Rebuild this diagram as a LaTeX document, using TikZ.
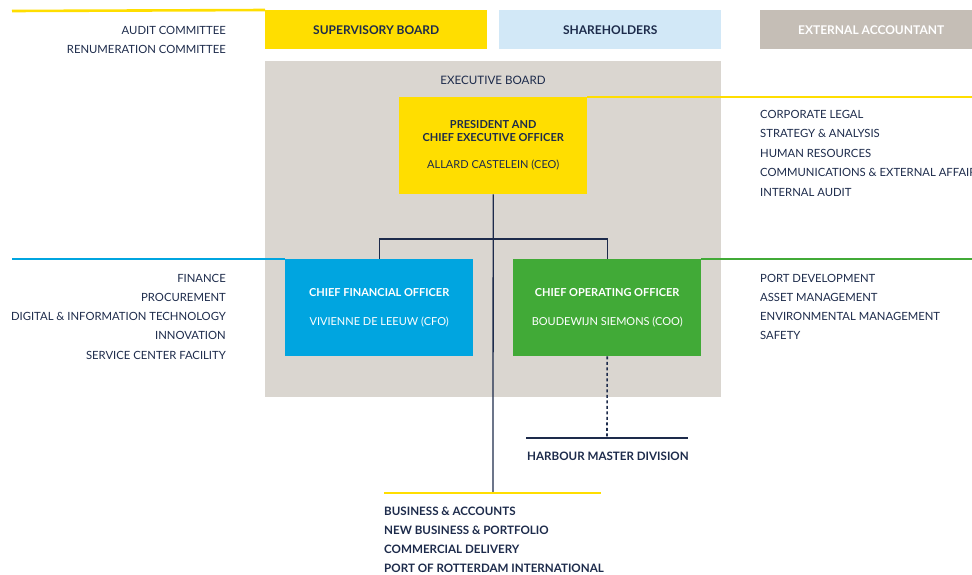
\documentclass[tikz,border=0pt]{standalone}
\usepackage{fontspec}
\setmainfont{Lato}
\definecolor{prYellow}{HTML}{FFDE00}
\definecolor{prBlue}{HTML}{00A5E0}
\definecolor{prGreen}{HTML}{41AA37}
\definecolor{prNavy}{HTML}{1D2B4B}
\definecolor{shareBlue}{HTML}{D2E8F7}
\definecolor{accGrey}{HTML}{C5BEB6}
\definecolor{boardGrey}{HTML}{DAD6D0}
\newcommand\listsize{\fontsize{11.3}{13}\selectfont}
\newcommand\boldsize{\fontsize{11.6}{13}\selectfont}
\newcommand\boxsize{\fontsize{11}{13}\selectfont}
\newcommand\topsize{\fontsize{12}{13}\selectfont}
\tikzset{
  topbox/.style={anchor=north west, minimum width=222pt, minimum height=39pt, font=\topsize\bfseries},
  officer/.style={anchor=north west, minimum width=188pt, minimum height=97pt, align=center, font=\boxsize},
  item/.style={anchor=base east, font=\listsize},
  itemR/.style={anchor=base west, font=\listsize},
  itemB/.style={anchor=base west, font=\boldsize\bfseries},
  link/.style={draw=prNavy, line width=1.3pt},
  rule/.style={line width=2.6pt},
}
\begin{document}
\begin{tikzpicture}[x=1pt, y=-1pt, every node/.style={inner sep=0pt, text=prNavy}]
  \useasboundingbox (0,0) rectangle (972,574);
  % boards along the top
  \node[topbox, fill=prYellow] (supervisory) at (265,10) {SUPERVISORY BOARD};
  \node[topbox, fill=shareBlue] (shareholders) at (499,10) {SHAREHOLDERS};
  \node[topbox, fill=accGrey, text=white] (accountant) at (760,10) {EXTERNAL ACCOUNTANT};
  \coordinate (supL) at (12,11);
  \draw[rule, prYellow] (supL) -- (supervisory.north west);
  \foreach \name [count=\i] in {AUDIT COMMITTEE, RENUMERATION COMMITTEE}
    \node[item] (sup\i) at (226,{34+19*(\i-1)}) {\name};

  % executive board
  \node[fill=boardGrey, anchor=north west, minimum width=456pt, minimum height=336pt] (exec) at (265,61) {};
  \node[font=\boldsize] (execlabel) at (493,80) {EXECUTIVE BOARD};

  \node[officer, fill=prYellow] (ceo) at (399,97)
    {\textbf{PRESIDENT AND}\\\textbf{CHIEF EXECUTIVE OFFICER}\\[14pt]ALLARD CASTELEIN (CEO)};
  \node[officer, fill=prBlue, text=white] (cfo) at (285,259)
    {\textbf{CHIEF FINANCIAL OFFICER}\\[16pt]VIVIENNE DE LEEUW (CFO)};
  \node[officer, fill=prGreen, text=white] (coo) at (513,259)
    {\textbf{CHIEF OPERATING OFFICER}\\[16pt]BOUDEWIJN SIEMONS (COO)};

  % coloured rules to the staff lists
  \coordinate (ceoR) at (972,97);
  \coordinate (cfoL) at (12,259);
  \coordinate (cooR) at (972,259);
  \draw[rule, prYellow] (ceo.north east) -- (ceoR);
  \draw[rule, prBlue] (cfoL) -- (cfo.north west);
  \draw[rule, prGreen] (coo.north east) -- (cooR);

  \foreach \name [count=\i] in {CORPORATE LEGAL, STRATEGY \& ANALYSIS, HUMAN RESOURCES,
      COMMUNICATIONS \& EXTERNAL AFFAIRS, INTERNAL AUDIT}
    \node[itemR] (ceo\i) at (760,{118+19.5*(\i-1)}) {\name};
  \foreach \name [count=\i] in {FINANCE, PROCUREMENT, DIGITAL \& INFORMATION TECHNOLOGY,
      INNOVATION, SERVICE CENTER FACILITY}
    \node[item] (cfo\i) at (226,{282+19.25*(\i-1)}) {\name};
  \foreach \name [count=\i] in {PORT DEVELOPMENT, ASSET MANAGEMENT,
      ENVIRONMENTAL MANAGEMENT, SAFETY}
    \node[itemR] (coo\i) at (760,{282+19.25*(\i-1)}) {\name};

  % reporting lines
  \coordinate (fork) at (493,239);
  \coordinate (bizTop) at (493,493);
  \coordinate (bizL) at (384,493);
  \coordinate (bizR) at (601,493);
  \coordinate (hmTop) at (607,438);
  \coordinate (hmL) at (526,438);
  \coordinate (hmR) at (688,438);
  \draw[link] (ceo.south) -- (bizTop);
  \draw[link] (cfo.north) |- (fork) -| (coo.north);
  \draw[link, line width=1.6pt, dash pattern=on 3pt off 2.5pt] (coo.south) -- (hmTop);
  \draw[rule, prNavy] (hmL) -- (hmR);
  \draw[rule, prYellow] (bizL) -- (bizR);

  \node[itemB] (harbour) at (527,460) {HARBOUR MASTER DIVISION};
  \foreach \name [count=\i] in {BUSINESS \& ACCOUNTS, NEW BUSINESS \& PORTFOLIO,
      COMMERCIAL DELIVERY, PORT OF ROTTERDAM INTERNATIONAL}
    \node[itemB] (biz\i) at (384,{515+19.3*(\i-1)}) {\name};
\end{tikzpicture}
\end{document}
